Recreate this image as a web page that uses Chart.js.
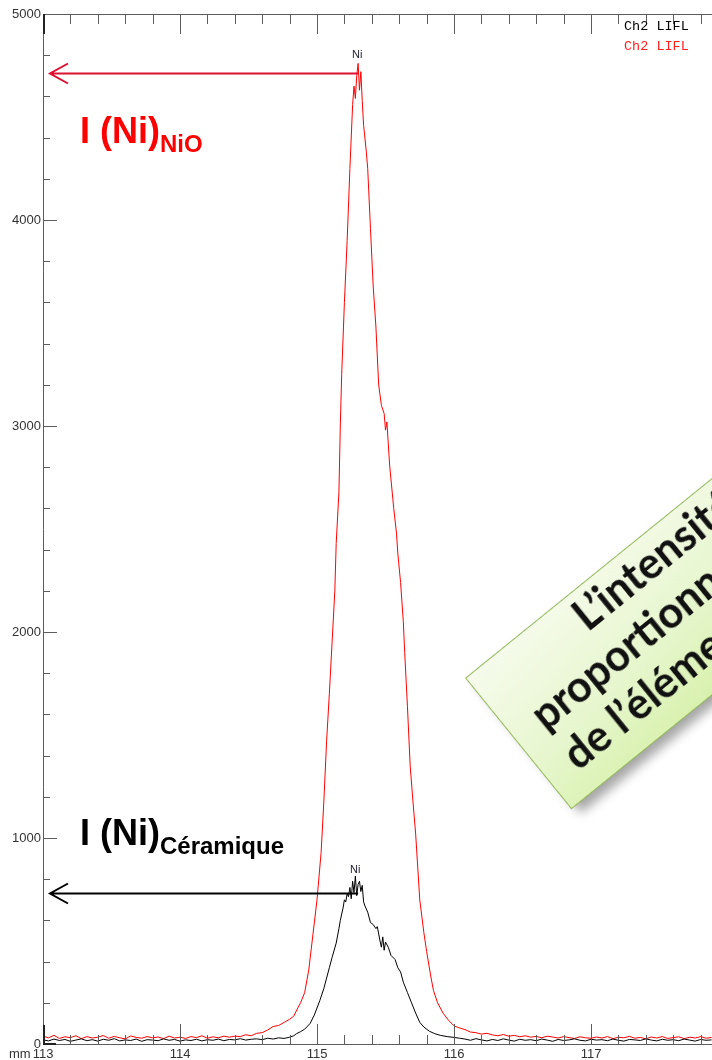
<!DOCTYPE html>
<html>
<head>
<meta charset="utf-8">
<script src="https://cdn.jsdelivr.net/npm/chart.js@4.4.1/dist/chart.umd.min.js"></script>
<style>
  html, body { margin: 0; padding: 0; background: #fff; overflow: hidden; }
  #wrap { position: relative; width: 712px; height: 1060px; overflow: hidden; }
  #spectrum { position: absolute; left: 0; top: 0; }
  .lbl { position: absolute; white-space: nowrap; line-height: 1; font-family: 'Liberation Sans', Arial, sans-serif; }
  .big { font-weight: bold; font-size: 36px; }
  .big span { font-size: 24px; vertical-align: -9px; }
  .peak { font-size: 11px; color: #223; }
  .key { font-family: 'Liberation Mono', 'DejaVu Sans Mono', monospace; font-size: 13.5px; }
  #note {
    position: absolute; left: 465px; top: 678px; width: 520px; height: 169px;
    box-sizing: border-box;
    transform-origin: 0 0; transform: rotate(-39deg);
    background: linear-gradient(172deg, #f6fbec 0%, #e6f6cc 50%, #cfee9a 100%);
    border: 1.5px solid #93b95a;
    box-shadow: 5px 9px 10px rgba(0, 0, 0, 0.35);
    font-family: Lato, 'Open Sans', sans-serif; font-weight: bold; font-size: 43px; color: #111;
  }
  #note div { position: absolute; white-space: nowrap; line-height: 1; }
</style>
</head>
<body>
<div id="wrap">
  <canvas id="spectrum" width="712" height="1060"></canvas>

  <div class="lbl big" style="left:80px; top:113px; color:#ff0000;">I (Ni)<span>NiO</span></div>
  <div class="lbl big" style="left:80px; top:815px; color:#000;">I (Ni)<span>Céramique</span></div>

  <div class="lbl peak" style="left:352px; top:49px;">Ni</div>
  <div class="lbl peak" style="left:350px; top:864px;">Ni</div>

  <div class="lbl key" style="left:624px; top:20px; color:#000;">Ch2 LIFL</div>
  <div class="lbl key" style="left:624px; top:40px; color:#ff2020;">Ch2 LIFL</div>

  <div class="lbl" style="left:9px; top:1047px; font-size:13px; color:#333;">mm</div>

  <div id="note">
    <div style="left:123px; top:3px;">L’intensité est</div>
    <div style="left:28px; top:54px;">proportionnelle à la teneur</div>
    <div style="left:28px; top:105px;">de l’élément</div>
  </div>
</div>

<script>
// position in mm, counts
const redPos = [
  113.00, 113.04, 113.08, 113.12, 113.16, 113.20, 113.24, 113.28, 113.32, 113.36,
  113.40, 113.44, 113.48, 113.52, 113.56, 113.60, 113.64, 113.68, 113.72, 113.76,
  113.80, 113.84, 113.88, 113.92, 113.96, 114.00, 114.04, 114.08, 114.12, 114.16,
  114.20, 114.24, 114.28, 114.32, 114.36, 114.40, 114.44, 114.48, 114.52, 114.56,
  114.60, 114.64, 114.68, 114.72, 114.76,
  114.80, 114.83, 114.86, 114.88, 114.91, 114.94, 114.97, 115.00, 115.03, 115.05,
  115.07, 115.09, 115.11, 115.13, 115.14, 115.16, 115.17, 115.18, 115.20, 115.22,
  115.24, 115.26, 115.27, 115.28, 115.29, 115.30, 115.31, 115.32, 115.33, 115.34,
  115.36, 115.37, 115.39, 115.41, 115.43, 115.45, 115.47, 115.49, 115.50, 115.51,
  115.53, 115.56, 115.58, 115.59, 115.61, 115.63, 115.64, 115.66, 115.68, 115.70,
  115.72, 115.75, 115.78, 115.80, 115.83, 115.85, 115.88, 115.92, 115.96, 116.00,
  116.04,
  116.08, 116.12, 116.16, 116.20, 116.24, 116.28, 116.32, 116.36, 116.40, 116.44,
  116.48, 116.52, 116.56, 116.60, 116.64, 116.68, 116.72, 116.76, 116.80, 116.84,
  116.88, 116.92, 116.96, 117.00, 117.04, 117.08, 117.12, 117.16, 117.20, 117.24,
  117.28, 117.32, 117.36, 117.40, 117.44, 117.48, 117.52, 117.56, 117.60, 117.64,
  117.68, 117.72, 117.76, 117.80, 117.84, 117.88
];
const redCounts = [
  38, 30, 42, 27, 35, 31, 40, 26, 36, 29,
  33, 41, 28, 37, 30, 25, 39, 32, 28, 36,
  30, 34, 26, 38, 29, 33, 27, 36, 31, 40,
  28, 35, 30, 38, 33, 38, 36, 45, 40, 52,
  55, 68, 85, 90, 105,
  120, 135, 175, 200, 250, 360, 530, 700, 930, 1180,
  1470, 1700, 1950, 2200, 2430, 2680, 3000, 3250, 3600, 3900,
  4250, 4560, 4650, 4590, 4700, 4760, 4630, 4720, 4580, 4460,
  4330, 4250, 3960, 3680, 3480, 3200, 3100, 3060, 2980, 3020,
  2810, 2600, 2480, 2380, 2240, 2050, 1900, 1640, 1350, 1180,
  1020, 700, 540, 450, 330, 260, 200, 150, 115, 88,
  78,
  70, 58, 55, 48, 52, 44, 40, 46, 38, 42,
  35, 40, 33, 37, 30, 38, 34, 29, 36, 31,
  27, 35, 30, 28, 34, 29, 36, 26, 33, 30,
  37, 28, 32, 25, 34, 29, 36, 27, 31, 35,
  26, 33, 29, 36, 28, 32
];

const blackPos = [
  113.00, 113.04, 113.08, 113.12, 113.16, 113.20, 113.24, 113.28, 113.32, 113.36,
  113.40, 113.44, 113.48, 113.52, 113.56, 113.60, 113.64, 113.68, 113.72, 113.76,
  113.80, 113.84, 113.88, 113.92, 113.96, 114.00, 114.04, 114.08, 114.12, 114.16,
  114.20, 114.24, 114.28, 114.32, 114.36, 114.40, 114.44, 114.48, 114.52, 114.56,
  114.60, 114.64, 114.68, 114.72, 114.76,
  114.80, 114.83, 114.85, 114.88, 114.91, 114.95, 114.98, 115.02, 115.05, 115.07,
  115.09, 115.11, 115.14, 115.16, 115.17, 115.19, 115.20, 115.21, 115.22, 115.23,
  115.24, 115.25, 115.26, 115.27, 115.28, 115.29, 115.30, 115.31, 115.32, 115.33,
  115.34, 115.35, 115.37, 115.39, 115.41, 115.43, 115.44, 115.46, 115.47, 115.48,
  115.49, 115.50, 115.52, 115.54, 115.57, 115.59, 115.61, 115.63, 115.66, 115.69,
  115.72, 115.75, 115.78, 115.82, 115.86, 115.90, 115.95, 116.00, 116.04,
  116.08, 116.12, 116.16, 116.20, 116.24, 116.28, 116.32, 116.36, 116.40, 116.44,
  116.48, 116.52, 116.56, 116.60, 116.64, 116.68, 116.72, 116.76, 116.80, 116.84,
  116.88, 116.92, 116.96, 117.00, 117.04, 117.08, 117.12, 117.16, 117.20, 117.24,
  117.28, 117.32, 117.36, 117.40, 117.44, 117.48, 117.52, 117.56, 117.60, 117.64,
  117.68, 117.72, 117.76, 117.80, 117.84, 117.88
];
const blackCounts = [
  20, 15, 24, 17, 22, 13, 19, 25, 16, 21,
  14, 23, 18, 26, 15, 20, 17, 24, 13, 21,
  19, 16, 25, 18, 22, 14, 20, 17, 23, 15,
  21, 18, 24, 16, 22, 20, 26, 19, 23, 25,
  21, 28, 24, 30, 27,
  33, 40, 50, 60, 72, 100, 140, 210, 270, 320,
  370, 420, 490, 560, 600, 660, 700, 690, 730, 715,
  760, 705, 790, 735, 815, 720, 775, 790, 740, 770,
  690, 670, 640, 590, 580, 560, 570, 500, 470, 520,
  455, 495, 470, 430, 410, 370, 350, 300, 250, 200,
  150, 105, 82, 62, 50, 42, 36, 32, 28,
  24, 18, 26, 20, 15, 22, 17, 25, 19, 14,
  23, 18, 21, 16, 24, 19, 13, 22, 17, 20,
  25, 18, 15, 23, 19, 21, 16, 24, 18, 14,
  22, 20, 17, 25, 19, 15, 23, 18, 21, 16,
  24, 19, 14, 22, 18, 20
];

const xTickLabels = [113, 114, 115, 116, 117];
const yTickLabels = [0, 1000, 2000, 3000, 4000, 5000];

// arrows pointing from the intensity axis to each Ni peak
const arrowLevels = [4714, 733];
const arrowPeaks = [115.30, 115.30];
const arrowColors = ['#dc1030', '#000'];

const toPoints = (xs, ys) => xs.map((v, i) => ({ x: v, y: ys[i] }));

const frame = {
  id: 'frame',
  afterDraw(chart) {
    const { ctx, chartArea: a, scales: { x, y } } = chart;
    ctx.save();
    ctx.strokeStyle = '#5c5c5c';
    ctx.lineWidth = 1;
    ctx.beginPath();
    ctx.moveTo(a.left + 0.5, a.top); ctx.lineTo(a.left + 0.5, a.bottom + 1);
    ctx.moveTo(a.left, a.top + 0.5); ctx.lineTo(a.right, a.top + 0.5);
    ctx.moveTo(a.left, a.bottom + 0.5); ctx.lineTo(a.right, a.bottom + 0.5);
    for (let v = 200; v < 5000; v += 200) {
      const py = Math.round(y.getPixelForValue(v)) + 0.5;
      ctx.moveTo(a.left, py);
      ctx.lineTo(a.left + (v % 1000 === 0 ? 14 : 7), py);
    }
    for (let i = 1; 113 + i * 0.2 < x.max; i++) {
      const px = Math.round(x.getPixelForValue(113 + i * 0.2)) + 0.5;
      const major = i % 5 === 0;
      ctx.moveTo(px, a.bottom); ctx.lineTo(px, a.bottom - (major ? 20 : 9));
      ctx.moveTo(px, a.top); ctx.lineTo(px, a.top + (major ? 20 : 10));
    }
    ctx.stroke();

    // heavy corner marks
    ctx.lineWidth = 2;
    ctx.strokeStyle = '#222';
    ctx.beginPath();
    ctx.moveTo(a.left + 1, a.top); ctx.lineTo(a.left + 1, a.top + 20);
    ctx.moveTo(a.left + 1, a.bottom - 19); ctx.lineTo(a.left + 1, a.bottom);
    ctx.lineTo(a.left + 13, a.bottom);
    ctx.stroke();

    // arrows
    arrowLevels.forEach((lvl, i) => {
      const py = Math.round(y.getPixelForValue(lvl)) + 0.5;
      const tip = a.left + 7;
      ctx.strokeStyle = arrowColors[i];
      ctx.lineWidth = 2;
      ctx.beginPath();
      ctx.moveTo(x.getPixelForValue(arrowPeaks[i]), py);
      ctx.lineTo(tip, py);
      ctx.moveTo(tip + 18, py - 10);
      ctx.lineTo(tip, py);
      ctx.lineTo(tip + 18, py + 10);
      ctx.stroke();
    });
    ctx.restore();
  }
};

const tickFont = { family: "'Liberation Sans', Arial, sans-serif", size: 13 };

new Chart(document.getElementById('spectrum'), {
  type: 'line',
  data: {
    datasets: [
      {
        label: 'Ch2 LIFL',
        data: toPoints(blackPos, blackCounts),
        borderColor: '#000',
        borderWidth: 1,
        pointRadius: 0,
        tension: 0,
      },
      {
        label: 'Ch2 LIFL',
        data: toPoints(redPos, redCounts),
        borderColor: '#ff0000',
        borderWidth: 1,
        pointRadius: 0,
        tension: 0,
      },
    ],
  },
  options: {
    responsive: false,
    animation: false,
    layout: { padding: { top: 14, left: 0, right: 0, bottom: 0 } },
    plugins: {
      legend: { display: false },
      tooltip: { enabled: false },
    },
    scales: {
      x: {
        type: 'linear',
        min: 113,
        max: 117.883,
        afterBuildTicks: (s) => { s.ticks = xTickLabels.map((v) => ({ value: v })); },
        afterFit: (s) => { s.height = 16; },
        grid: { display: false, drawTicks: false },
        border: { display: false },
        ticks: { font: tickFont, color: '#333', padding: 3, maxRotation: 0, autoSkip: false, callback: (v) => String(v) },
      },
      y: {
        min: 0,
        max: 5000,
        afterBuildTicks: (s) => { s.ticks = yTickLabels.map((v) => ({ value: v })); },
        afterFit: (s) => { s.width = 43; },
        grid: { display: false, drawTicks: false },
        border: { display: false },
        ticks: { font: tickFont, color: '#333', padding: 2, callback: (v) => String(v) },
      },
    },
  },
  plugins: [frame],
});
</script>
</body>
</html>
